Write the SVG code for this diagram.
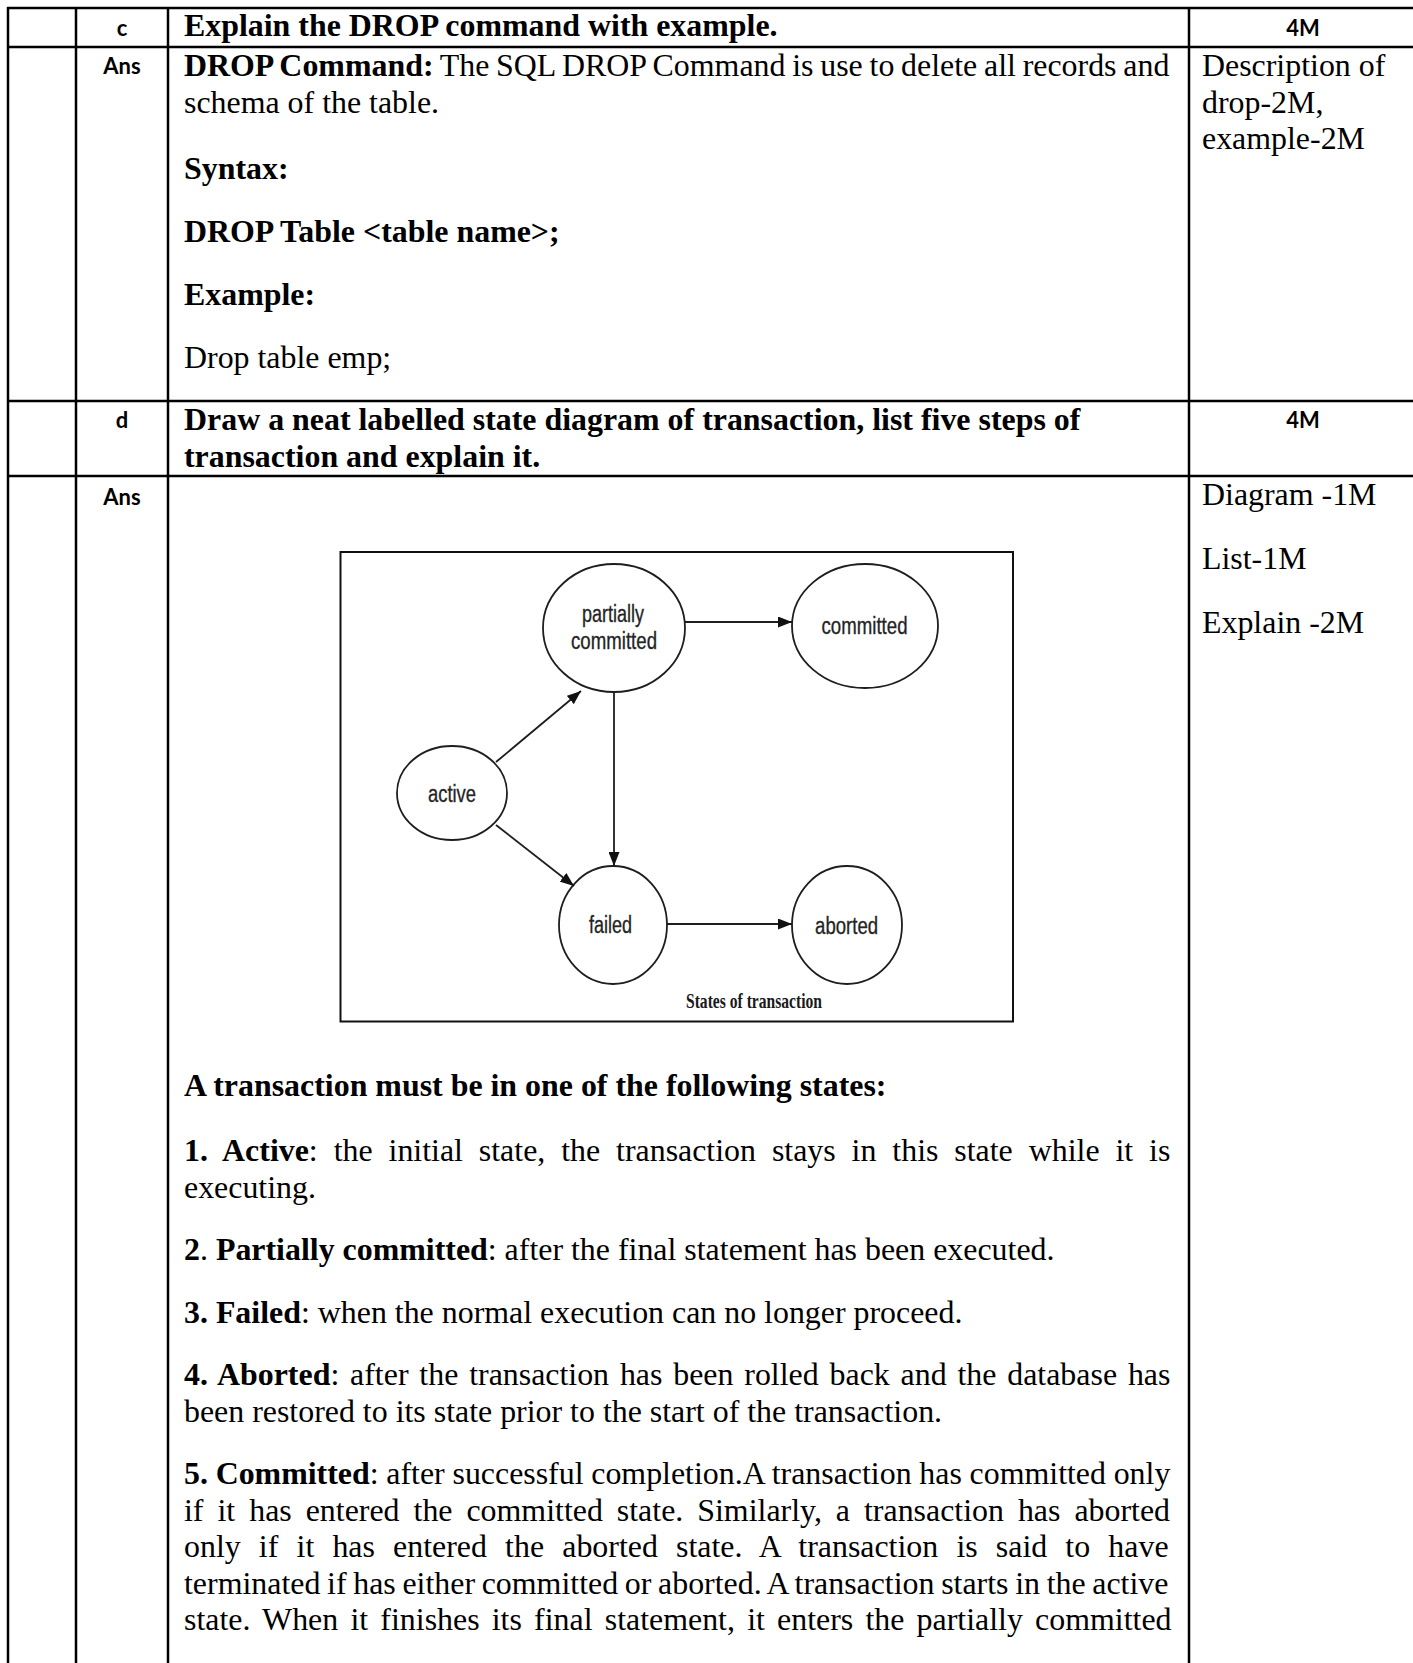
<svg xmlns="http://www.w3.org/2000/svg" width="1413" height="1663" viewBox="0 0 1413 1663">
<style>
.t{font-family:"Liberation Serif","Times New Roman",serif;font-size:31.9px;fill:#000}
.b{font-weight:bold}
.lab{font-family:Lato,"Liberation Sans",sans-serif;font-weight:bold;font-size:22px;text-anchor:middle;fill:#000}
.grid{stroke:#000;stroke-width:2.5;fill:none}
.st{fill:#fff;stroke:#1e1e1e;stroke-width:1.8}
.sl{font-family:"Liberation Sans",Arial,sans-serif;font-size:23.5px;fill:#222;stroke:#333;stroke-width:0.35;text-anchor:middle}
.ar{stroke:#1e1e1e;stroke-width:1.8;fill:none;marker-end:url(#ah)}
.cap{font-family:"Liberation Serif","Times New Roman",serif;font-weight:bold;font-size:21px;fill:#1a1a1a}
</style>
<defs>
<marker id="ah" markerUnits="userSpaceOnUse" markerWidth="14" markerHeight="11" refX="14" refY="5.5" orient="auto"><path d="M0,0 L14,5.5 L0,11 z" fill="#111"/></marker>
</defs>
<rect width="1413" height="1663" fill="#fff"/>

<g id="table-grid" class="grid">
<line x1="7" y1="8" x2="1413" y2="8"/>
<line x1="7" y1="47" x2="1413" y2="47"/>
<line x1="7" y1="401" x2="1413" y2="401"/>
<line x1="7" y1="476" x2="1413" y2="476"/>
<line x1="8" y1="7" x2="8" y2="1663"/>
<line x1="76" y1="7" x2="76" y2="1663"/>
<line x1="168" y1="7" x2="168" y2="1663"/>
<line x1="1189" y1="7" x2="1189" y2="1663"/>
</g>

<g id="row-c">
<text class="lab" x="122" y="36">c</text>
<text class="t b" x="184" y="36">Explain the DROP command with example.</text>
<text class="lab" x="1303" y="36">4M</text>
</g>

<g id="row-c-ans">
<text class="lab" x="122" y="74">Ans</text>
<text class="t" x="184" y="76" word-spacing="-1.2"><tspan class="b">DROP Command:</tspan> The SQL DROP Command is use to delete all records and</text>
<text class="t" x="184" y="112.5">schema of the table.</text>
<text class="t b" x="184" y="179">Syntax:</text>
<text class="t b" x="184" y="242">DROP Table &lt;table name&gt;;</text>
<text class="t b" x="184" y="305">Example:</text>
<text class="t" x="184" y="368">Drop table emp;</text>
<text class="t" x="1202" y="76">Description of</text>
<text class="t" x="1202" y="112.5">drop-2M,</text>
<text class="t" x="1202" y="149">example-2M</text>
</g>

<g id="row-d">
<text class="lab" x="122" y="428">d</text>
<text class="t b" x="184" y="430">Draw a neat labelled state diagram of transaction, list five steps of</text>
<text class="t b" x="184" y="467">transaction and explain it.</text>
<text class="lab" x="1303" y="428">4M</text>
</g>

<g id="row-d-ans">
<text class="lab" x="122" y="505">Ans</text>
<text class="t" x="1202" y="505">Diagram -1M</text>
<text class="t" x="1202" y="569">List-1M</text>
<text class="t" x="1202" y="633">Explain -2M</text>
</g>

<g id="figure">
<rect x="340.5" y="552" width="672.5" height="469.5" fill="#fff" stroke="#111" stroke-width="2"/>
<g id="node-partially-committed">
<ellipse class="st" cx="614" cy="628" rx="71" ry="64"/>
<text class="sl" x="613" y="622" textLength="62" lengthAdjust="spacingAndGlyphs">partially</text>
<text class="sl" x="614" y="649" textLength="86" lengthAdjust="spacingAndGlyphs">committed</text>
</g>
<g id="node-committed">
<ellipse class="st" cx="865" cy="626" rx="73" ry="62"/>
<text class="sl" x="864.5" y="634" textLength="86" lengthAdjust="spacingAndGlyphs">committed</text>
</g>
<g id="node-active">
<ellipse class="st" cx="452" cy="793" rx="55" ry="47"/>
<text class="sl" x="452" y="802" textLength="48" lengthAdjust="spacingAndGlyphs">active</text>
</g>
<g id="node-failed">
<ellipse class="st" cx="613" cy="925" rx="54" ry="59"/>
<text class="sl" x="610.6" y="933" textLength="43" lengthAdjust="spacingAndGlyphs">failed</text>
</g>
<g id="node-aborted">
<ellipse class="st" cx="847" cy="925" rx="55" ry="59"/>
<text class="sl" x="846.6" y="934" textLength="63" lengthAdjust="spacingAndGlyphs">aborted</text>
</g>
<g id="connectors">
<line class="ar" x1="685" y1="622" x2="792" y2="622"/>
<line class="ar" x1="614" y1="692" x2="614" y2="866"/>
<line class="ar" x1="496" y1="762" x2="581" y2="691"/>
<line class="ar" x1="496" y1="825" x2="574" y2="886"/>
<line class="ar" x1="667" y1="924" x2="792" y2="924"/>
</g>
<text class="cap" x="686" y="1008" textLength="136" lengthAdjust="spacingAndGlyphs">States of transaction</text>
</g>

<g id="states-text">
<text class="t b" x="184" y="1096">A transaction must be in one of the following states:</text>
<text class="t" x="184" y="1161" word-spacing="7.95"><tspan class="b">1. Active</tspan>: the initial state, the transaction stays in this state while it is</text>
<text class="t" x="184" y="1197.5">executing.</text>
<text class="t" x="184" y="1260"><tspan class="b">2</tspan>. <tspan class="b">Partially committed</tspan>: after the final statement has been executed.</text>
<text class="t" x="184" y="1322.5"><tspan class="b">3. Failed</tspan>: when the normal execution can no longer proceed.</text>
<text class="t" x="184" y="1385" word-spacing="2.87"><tspan class="b">4. Aborted</tspan>: after the transaction has been rolled back and the database has</text>
<text class="t" x="184" y="1421.5">been restored to its state prior to the start of the transaction.</text>
<text class="t" x="184" y="1484" word-spacing="-0.25"><tspan class="b">5. Committed</tspan>: after successful completion.A transaction has committed only</text>
<text class="t" x="184" y="1520.5" word-spacing="6.02">if it has entered the committed state. Similarly, a transaction has aborted</text>
<text class="t" x="184" y="1557" word-spacing="10.2">only if it has entered the aborted state. A transaction is said to have</text>
<text class="t" x="184" y="1593.5" word-spacing="-1.28">terminated if has either committed or aborted. A transaction starts in the active</text>
<text class="t" x="184" y="1630" word-spacing="4.24">state. When it finishes its final statement, it enters the partially committed</text>
</g>
</svg>
